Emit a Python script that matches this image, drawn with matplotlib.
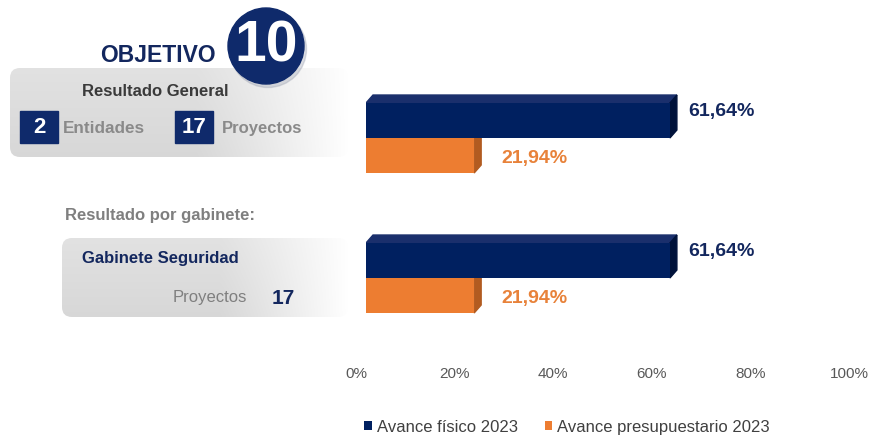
import numpy as np
import matplotlib.pyplot as plt
from matplotlib.patches import FancyBboxPatch, Circle, Polygon, Rectangle
from matplotlib.transforms import ScaledTranslation

plt.rcParams['font.family'] = ['Liberation Sans', 'DejaVu Sans']

# data
groups = ['Resultado General', 'Gabinete Seguridad']
fisico = [61.64, 61.64]
presup = [21.94, 21.94]
series_names = ['Avance físico 2023', 'Avance presupuestario 2023']
ticks = [0, 20, 40, 60, 80, 100]

NAVY = '#002060'
NAVY_TOP = '#1a2f6c'
NAVY_SIDE = '#00123a'
ORANGE = '#ed7d31'
ORANGE_SIDE = '#b25b20'
TXT_NAVY = '#13275e'

W, H = 872, 436
fig = plt.figure(figsize=(W / 100, H / 100), dpi=100)

# background layer in pixel coordinates
bg = fig.add_axes([0, 0, 1, 1])
bg.axis('off')


def panel(x0, y0, x1, y1):
    box = FancyBboxPatch((x0, y0), x1 - x0, y1 - y0,
                         boxstyle='round,pad=0,rounding_size=10',
                         facecolor='none', edgecolor='none')
    bg.add_patch(box)
    X, Y = np.meshgrid(np.linspace(0, 1, 300), np.linspace(0, 1, 60))
    grey = 0.885 - 0.04 * Y
    fade = np.clip((X - 0.55) / 0.45, 0, 1) ** 1.1
    level = grey + (1 - grey) * fade
    img = np.dstack([level] * 3)
    im = bg.imshow(img, extent=(x0, x1, y1, y0), aspect='auto',
                   interpolation='bilinear', zorder=0)
    im.set_clip_path(box)


panel(10, 68, 348, 157)
panel(62, 238, 348, 317)

# objetivo badge
bg.add_patch(Circle((268, 49), 38.5, color='#9aa0b0', alpha=0.35, zorder=2))
bg.add_patch(Circle((266, 46), 38, color='#0f2a6b', zorder=3))
bg.text(266, 47, '10', color='white', fontsize=41, fontweight='bold',
        ha='center', va='center', zorder=4)
bg.text(100, 55, 'OBJETIVO', color=TXT_NAVY, fontsize=16.5, fontweight='bold',
        ha='left', va='center', zorder=4)

# resultado general panel
bg.text(155, 92, 'Resultado General', color='#3a3a3a', fontsize=12,
        fontweight='bold', ha='center', va='center', zorder=4)
bg.add_patch(Rectangle((20, 111), 38, 32, color='#0f2a6b', zorder=3))
bg.text(39, 127, '2', color='white', fontsize=16, fontweight='bold',
        ha='center', va='center', zorder=4)
bg.text(63, 128, 'Entidades', color='#8a8a8a', fontsize=12.3,
        fontweight='bold', ha='left', va='center', zorder=4)
bg.add_patch(Rectangle((175, 111), 38, 32, color='#0f2a6b', zorder=3))
bg.text(194, 127, '17', color='white', fontsize=16, fontweight='bold',
        ha='center', va='center', zorder=4)
bg.text(222, 128, 'Proyectos', color='#8a8a8a', fontsize=12,
        fontweight='bold', ha='left', va='center', zorder=4)

# por gabinete
bg.text(65, 215, 'Resultado por gabinete:', color='#7f7f7f', fontsize=12,
        fontweight='bold', ha='left', va='center', zorder=4)
bg.text(82, 258, groups[1], color=TXT_NAVY, fontsize=12, fontweight='bold',
        ha='left', va='center', zorder=4)
bg.text(173, 297, 'Proyectos', color='#7f7f7f', fontsize=12,
        ha='left', va='center', zorder=4)
bg.text(272, 298, '17', color=TXT_NAVY, fontsize=15, fontweight='bold',
        ha='left', va='center', zorder=4)

bg.set_xlim(0, W)
bg.set_ylim(H, 0)

# bar chart
ax = fig.add_axes([366 / W, 1 - 348 / H, 493 / W, 280 / H])
ax.set_facecolor('none')
y = np.arange(len(groups))
h = 0.25
b1 = ax.barh(y - h / 2, fisico, height=h, color=NAVY, zorder=3)
b2 = ax.barh(y + h / 2, presup, height=h, color=ORANGE, zorder=2)

dx, dy = 1.42, 0.057
for yi, v in zip(y, presup):
    top, bot = yi, yi + h
    ax.add_patch(Polygon([(v, top), (v + dx, top - dy), (v + dx, bot - dy), (v, bot)],
                         color=ORANGE_SIDE, zorder=1.9))
    ax.annotate(f'{v:.2f}%'.replace('.', ','), (v + dx, yi + h / 2),
                xytext=(14.5, -2.5), textcoords='offset points', va='center',
                ha='left', color='#e8823a', fontsize=14, fontweight='bold')
for yi, v in zip(y, fisico):
    top, bot = yi - h, yi
    ax.add_patch(Polygon([(0, top), (dx, top - dy), (v + dx, top - dy), (v, top)],
                         color=NAVY_TOP, zorder=2.5))
    ax.add_patch(Polygon([(v, top), (v + dx, top - dy), (v + dx, bot - dy), (v, bot)],
                         color=NAVY_SIDE, zorder=2.5))
    ax.annotate(f'{v:.2f}%'.replace('.', ','), (v + dx, yi - h / 2),
                xytext=(8.5, 6.5), textcoords='offset points', va='center',
                ha='left', color=TXT_NAVY, fontsize=14, fontweight='bold')

ax.set_xlim(0, 100)
ax.set_ylim(1.5, -0.5)
ax.set_xticks(ticks)
ax.set_xticklabels([f'{t}%' for t in ticks], fontsize=11, color='#595959')
ax.set_yticks([])
ax.tick_params(axis='x', length=0, pad=14)
for lbl in ax.get_xticklabels():
    lbl.set_transform(lbl.get_transform() + ScaledTranslation(-0.1, 0, fig.dpi_scale_trans))
for s in ax.spines.values():
    s.set_visible(False)

fig.legend(handles=[b1, b2], labels=series_names, loc='center',
           bbox_to_anchor=(567 / W, 1 - 427 / H), ncol=2, frameon=False,
           fontsize=12, handlelength=0.45, handleheight=0.45,
           handletextpad=0.3, columnspacing=1.6, labelcolor='#404040')

fig.savefig('out.png', dpi=100)
